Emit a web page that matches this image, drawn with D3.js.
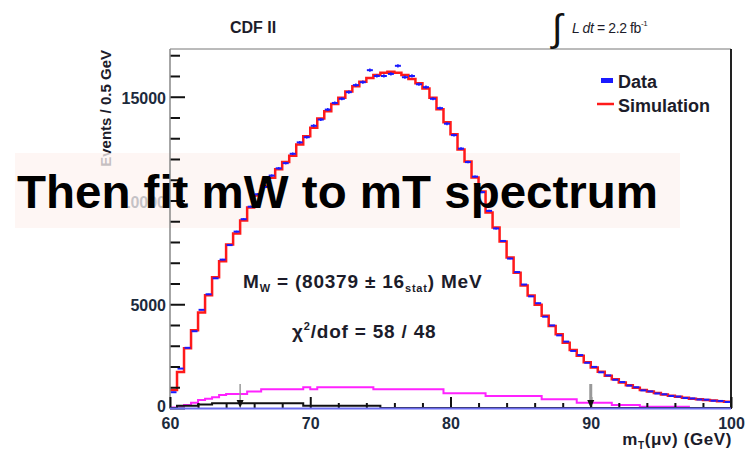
<!DOCTYPE html>
<html><head><meta charset="utf-8">
<script src="https://cdn.jsdelivr.net/npm/d3@7/dist/d3.min.js"></script>
<style>
html,body{margin:0;padding:0;background:#fff;}
svg{display:block;}
text{font-family:"Liberation Sans",Arial,Helvetica,sans-serif;}
</style></head>
<body>
<svg id="chart" width="746" height="450"></svg>
<script>
// ---- data (0.5 GeV bins from 60 to 100 GeV) ----
const binStart = 60, binWidth = 0.5, nBins = 80;
const simulation = [870,1730,2880,3750,4600,5430,6300,7070,7880,8410,
  9040,9660,10240,10700,11100,11500,11850,12160,12700,13100,
  13500,13950,14300,14650,14950,15250,15500,15720,15900,16050,
  16150,16200,16150,16050,15850,15650,15400,14950,14400,13770,
  13190,12460,11880,11110,10430,9420,8700,8020,7250,6520,
  5900,5420,4980,4450,3950,3550,3150,2800,2520,2200,
  1950,1750,1550,1380,1230,1100,980,870,790,720,
  650,590,540,490,450,420,390,360,330,300];
const dataCounts = [760,1900,2900,3700,4730,5480,6250,7150,7850,8500,
  9100,9700,10300,10650,11200,11550,11800,12250,12800,13050,
  13600,13900,14380,14700,14900,15220,15560,15700,16280,16000,
  16000,16100,16490,15940,16000,15600,15460,14900,14450,13700,
  13150,12500,11850,11150,10400,9500,8650,8050,7200,6550,
  5950,5380,5050,4400,3980,3500,3200,2750,2550,2180,
  1980,1720,1570,1360,1250,1080,1000,850,800,700,
  660,580,550,480,460,410,400,350,340,290];
const background1 = [30,100,145,255,385,450,515,630,675,675,
  675,790,790,900,900,900,900,900,900,1000,
  900,1000,1000,1000,1000,1000,1000,1000,1000,900,
  900,900,900,900,900,900,900,900,900,710,
  710,710,710,710,710,580,580,580,580,580,
  580,580,580,420,420,420,420,420,256,256,
  256,256,256,145,145,145,145,63,63,63,
  63,63,63,63,0,0,0,0,0,0];
const background2 = [0,110,110,110,170,170,225,225,225,225,
  225,225,225,225,225,225,225,225,225,110,
  110,110,110,110,110,110,110,110,110,110,
  0,0,0,0,0,0,0,0,0,0,
  0,0,0,0,0,0,0,0,0,0,
  0,0,0,0,0,0,0,0,0,0,
  0,0,0,0,0,0,0,0,0,0,
  0,0,0,0,0,0,0,0,0,0];
const xMajorTicks = [60,70,80,90,100];
const xMinorTicks = [62,64,66,68,72,74,76,78,82,84,86,88,92,94,96,98];
const yMajorTicks = [0,5000,10000,15000];
const yMinorTicks = [1000,2000,3000,4000,6000,7000,8000,9000,11000,12000,13000,14000,16000,17000];
const fitArrows = [65,90];

const edges = d3.range(nBins).map(i => binStart + i*binWidth);

const svg = d3.select("#chart");
const x = d3.scaleLinear().domain([60,100]).range([170,731]);
const y = d3.scaleLinear().domain([0,17300]).range([408,49]);

// banner background
svg.append("rect").attr("x",15).attr("y",153).attr("width",665).attr("height",75).attr("fill","#fdf6f4");

function stepPath(vals){
  const pts = vals.map((v,i)=>[edges[i],v]);
  pts.push([edges[nBins-1]+binWidth, vals[nBins-1]]);
  return d3.line().x(d=>x(d[0])).y(d=>y(d[1])).curve(d3.curveStepAfter)(pts);
}

svg.append("path").attr("d",stepPath(background1)).attr("fill","none").attr("stroke","#ff22ff").attr("stroke-width",2);
svg.append("path").attr("d",stepPath(background2)).attr("fill","none").attr("stroke","#111").attr("stroke-width",2);
svg.append("path").attr("d",stepPath(simulation)).attr("fill","none").attr("stroke","#ff1a1a").attr("stroke-width",2.5);

// data crosses
const dg = svg.append("g").attr("stroke","#1a1aff").attr("stroke-width",2);
dataCounts.forEach((v,i)=>{
  const xc = x(edges[i]+binWidth/2);
  dg.append("line").attr("x1",x(edges[i])+0.5).attr("x2",x(edges[i]+binWidth)-0.5).attr("y1",y(v)).attr("y2",y(v));
  const e = Math.sqrt(v);
  dg.append("line").attr("x1",xc).attr("x2",xc).attr("y1",y(v-e)-1).attr("y2",y(v+e)+1).attr("stroke-width",1.5);
});

// frame
svg.append("line").attr("x1",170).attr("x2",731).attr("y1",49).attr("y2",49).attr("stroke","#777").attr("stroke-width",1);
svg.append("line").attr("x1",731).attr("x2",731).attr("y1",49).attr("y2",409).attr("stroke","#222").attr("stroke-width",2);

// y axis
const yMaj = svg.append("g").attr("transform","translate(170,0)")
  .call(d3.axisLeft(y).tickValues(yMajorTicks).tickSize(-15).tickPadding(4).tickFormat(d3.format("d")));
const yMin = svg.append("g").attr("transform","translate(170,0)")
  .call(d3.axisLeft(y).tickValues(yMinorTicks).tickSize(-10).tickFormat(""));
[yMaj,yMin].forEach(g=>{g.select(".domain").remove(); g.selectAll("line").attr("stroke","#111").attr("stroke-width",2);});
yMaj.selectAll("text").attr("font-size",16).attr("font-weight","bold").attr("fill","#1c2a3c").attr("dy","0.42em");
yMaj.selectAll(".tick").filter(d=>d===0).select("text").attr("dy","0.2em");
svg.append("line").attr("x1",170).attr("x2",170).attr("y1",49).attr("y2",409).attr("stroke","#888").attr("stroke-width",1.5);

// x axis
const xMaj = svg.append("g").attr("transform","translate(0,408)")
  .call(d3.axisBottom(x).tickValues(xMajorTicks).tickSize(-11).tickPadding(6).tickFormat(d3.format("d")));
const xMin = svg.append("g").attr("transform","translate(0,408)")
  .call(d3.axisBottom(x).tickValues(xMinorTicks).tickSize(-5).tickFormat(""));
[xMaj,xMin].forEach(g=>{g.select(".domain").remove(); g.selectAll("line").attr("stroke","#111").attr("stroke-width",2);});
xMaj.selectAll("text").attr("font-size",16).attr("font-weight","bold").attr("fill","#1c2a3c").attr("dy","0.95em");
svg.append("line").attr("x1",170).attr("x2",731).attr("y1",408.5).attr("y2",408.5).attr("stroke","#6c6cf0").attr("stroke-width",2);

// fit range arrows
fitArrows.forEach((m,i)=>{
  const xa = x(m);
  svg.append("line").attr("x1",xa).attr("x2",xa).attr("y1",384).attr("y2",404)
    .attr("stroke","#999").attr("stroke-width", i===1?3:1.5);
  svg.append("path").attr("d",`M${xa-3.5},400 L${xa+3.5},400 L${xa},408 Z`).attr("fill","#111");
});

// axis titles
svg.append("text").attr("transform","translate(111,50) rotate(-90)").attr("text-anchor","end")
  .attr("font-size",15).attr("font-weight","bold").attr("fill","#1c1c2a").text("Events / 0.5 GeV");
const xt = svg.append("text").attr("x",732).attr("y",445).attr("text-anchor","end")
  .attr("font-size",17).attr("font-weight","bold").attr("letter-spacing",0.6).attr("fill","#1c1c2a");
xt.append("tspan").text("m");
xt.append("tspan").attr("font-size",10).attr("dy",4).text("T");
xt.append("tspan").attr("dy",-4).text("(\u03bc\u03bd) (GeV)");

// top labels
svg.append("text").attr("x",253).attr("y",33).attr("text-anchor","middle").attr("font-size",16).attr("font-weight","bold").attr("fill","#1c1c2a").text("CDF II");
svg.append("text").attr("x",552).attr("y",41).attr("font-size",38).attr("fill","#111").attr("font-family","DejaVu Serif, serif").text("\u222b");
const lum = svg.append("text").attr("x",572).attr("y",33).attr("font-size",14).attr("letter-spacing",-0.4).attr("fill","#1c1c2a");
lum.append("tspan").attr("font-style","italic").text("L dt");
lum.append("tspan").text(" = 2.2 fb");
lum.append("tspan").attr("font-size",8).attr("dy",-7).text("-1");

// legend
svg.append("rect").attr("x",601).attr("y",78).attr("width",12).attr("height",5).attr("fill","#1a1aff");
svg.append("text").attr("x",618).attr("y",88).attr("font-size",18).attr("font-weight","bold").attr("fill","#1c1c2a").text("Data");
svg.append("line").attr("x1",597).attr("x2",614).attr("y1",104).attr("y2",104).attr("stroke","#ff1a1a").attr("stroke-width",2.5);
svg.append("text").attr("x",618).attr("y",112).attr("font-size",18).attr("font-weight","bold").attr("fill","#1c1c2a").text("Simulation");

// annotations
const a1 = svg.append("text").attr("x",243).attr("y",288).attr("font-size",19).attr("font-weight","bold").attr("letter-spacing",0.8).attr("fill","#1c1c2a");
a1.append("tspan").text("M");
a1.append("tspan").attr("font-size",11).attr("dy",4).text("W");
a1.append("tspan").attr("dy",-4).text(" = (80379 \u00b1 16");
a1.append("tspan").attr("font-size",11).attr("dy",4).text("stat");
a1.append("tspan").attr("dy",-4).text(") MeV");
const a2 = svg.append("text").attr("x",292).attr("y",338).attr("font-size",19).attr("font-weight","bold").attr("letter-spacing",0.8).attr("fill","#1c1c2a");
a2.append("tspan").text("\u03c7");
a2.append("tspan").attr("font-size",11).attr("dy",-8).text("2");
a2.append("tspan").attr("dy",8).text("/dof = 58 / 48");

// banner overlay on left labels (semi-transparent) and banner text
svg.append("rect").attr("x",15).attr("y",153).attr("width",152).attr("height",75).attr("fill","#fdf6f4").attr("opacity",0.75);
svg.append("text").attr("x",17).attr("y",208).attr("font-size",46).attr("font-weight","bold")
  .attr("font-family","'Comic Sans MS','DejaVu Sans',sans-serif").attr("fill","#000")
  .attr("textLength",641).attr("lengthAdjust","spacingAndGlyphs").text("Then fit mW to mT spectrum");
</script>
</body></html>
